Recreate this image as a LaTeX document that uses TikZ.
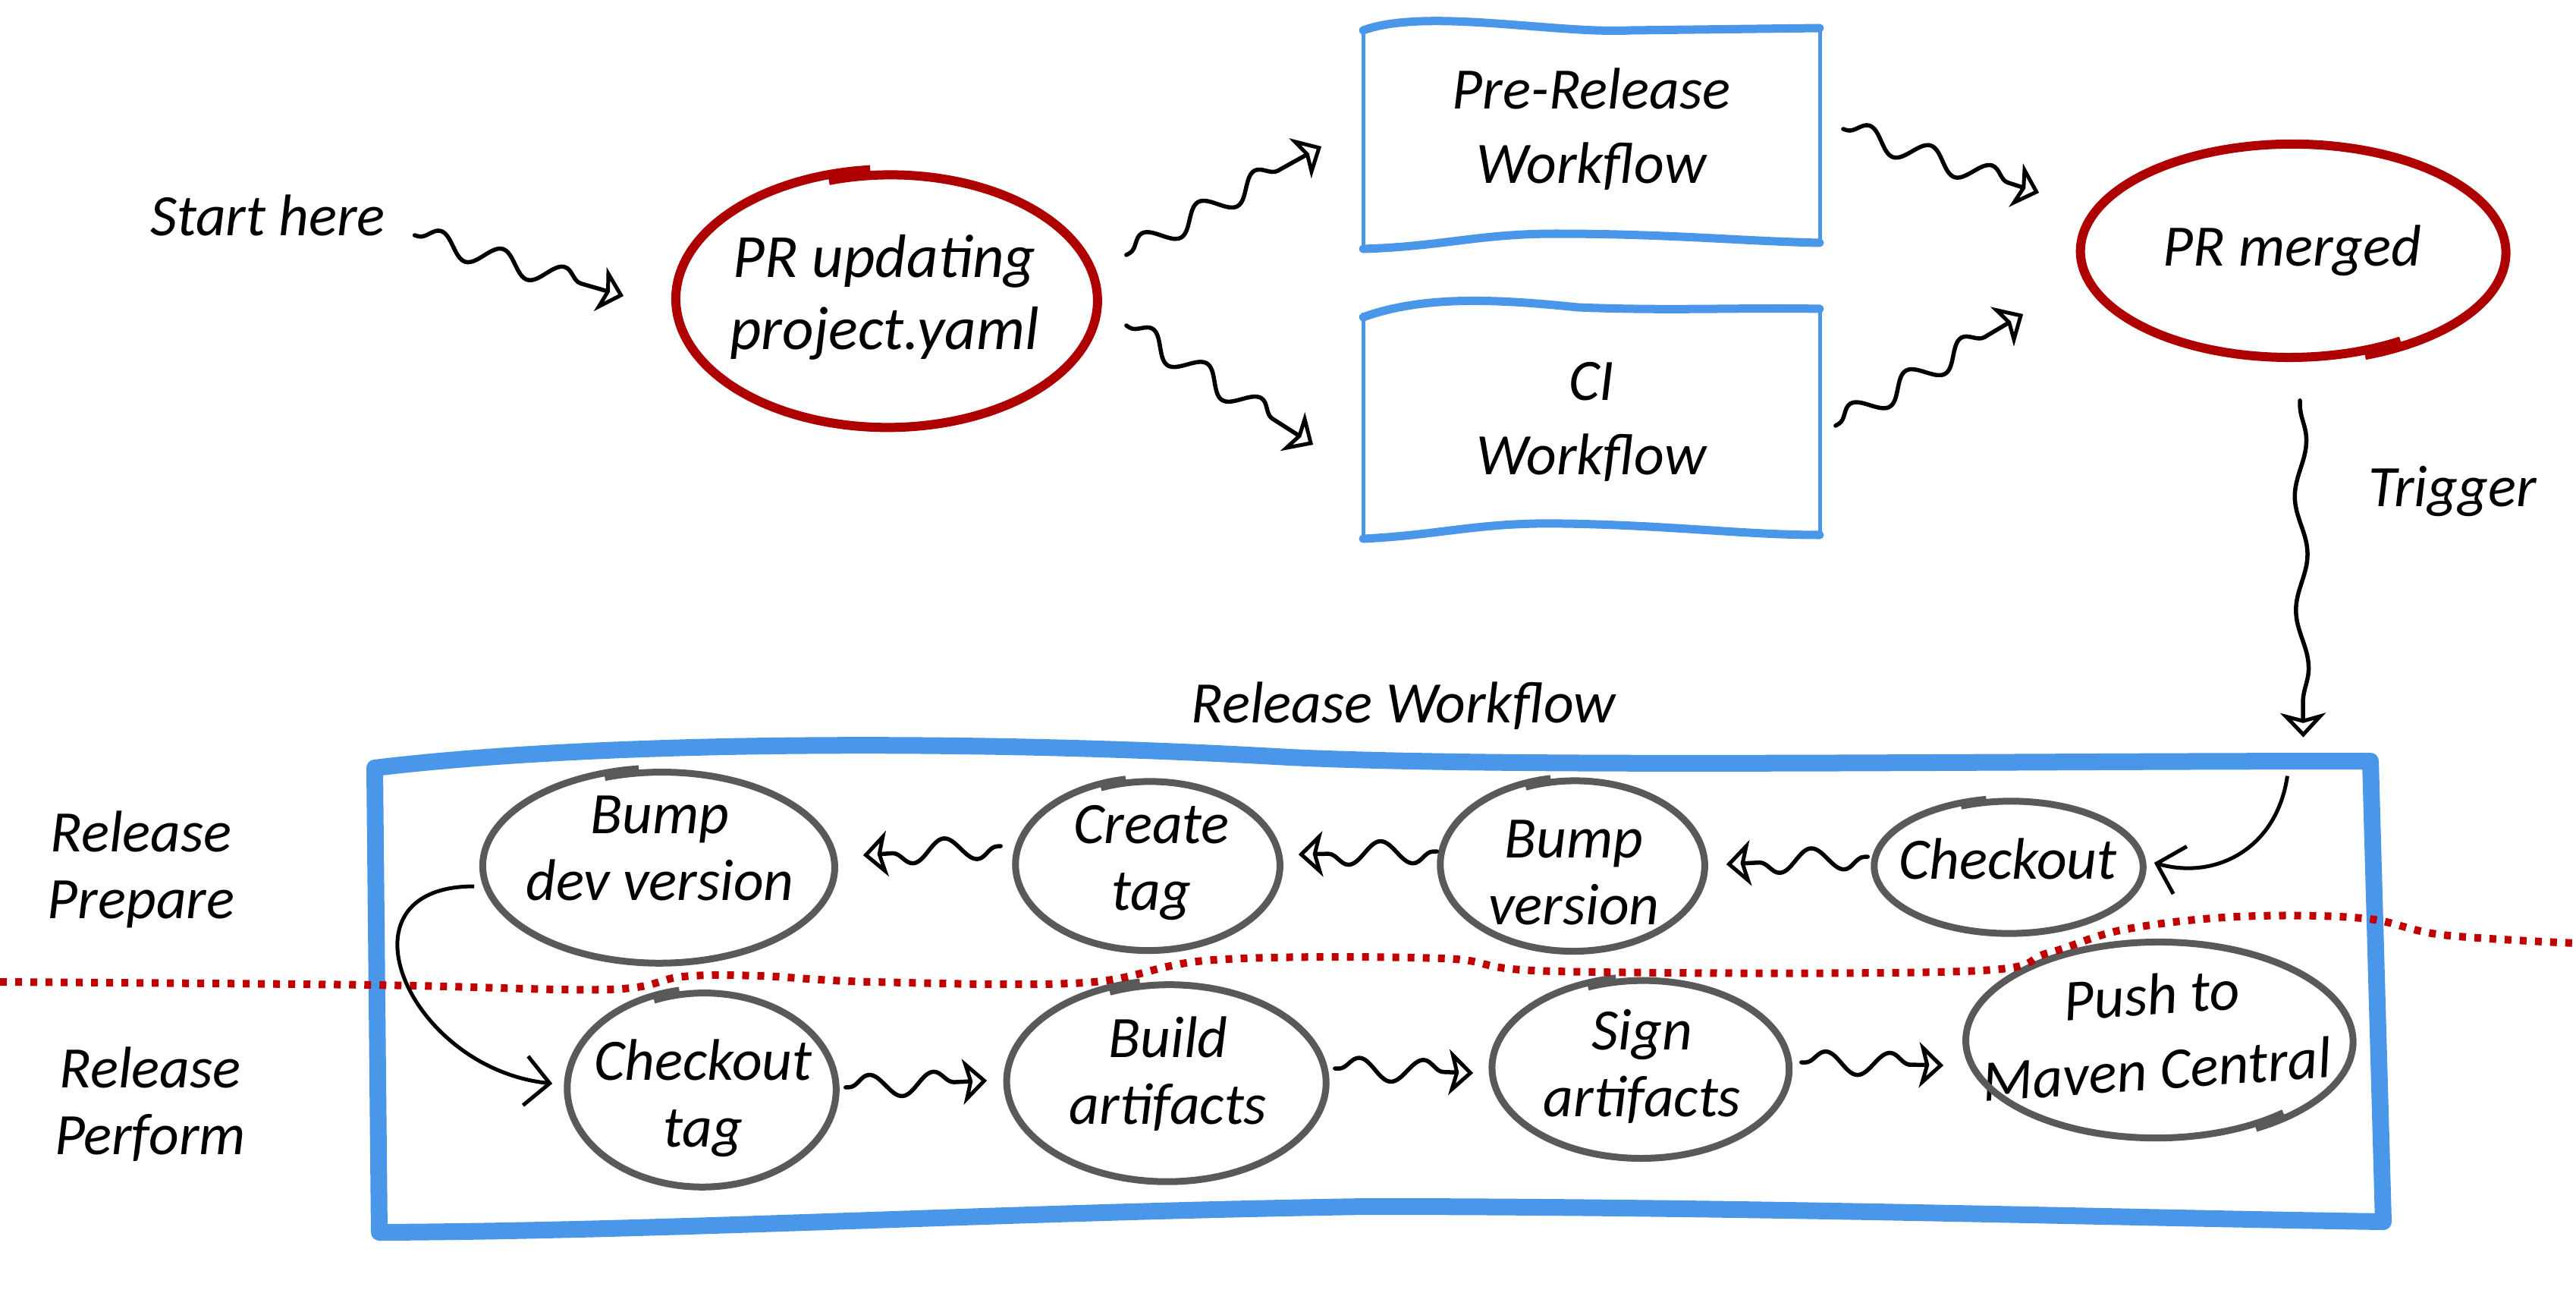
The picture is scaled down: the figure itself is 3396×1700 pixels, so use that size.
\documentclass[tikz,border=0pt]{standalone}
\usepackage{fontspec}
\setmainfont{Carlito}
\usetikzlibrary{shapes.geometric,arrows.meta,decorations.pathmorphing,calc}
\definecolor{sketchred}{HTML}{AE0000}
\definecolor{dotred}{HTML}{C00000}
\definecolor{sketchblue}{HTML}{4A96E8}
\definecolor{sketchgray}{HTML}{595959}
\newcommand{\sketchring}[5]{%
  \draw[#1, shift={(#2.center)}] plot[smooth, domain=#5:#5+372, samples=90, variable=\x]
   ({#3*(1-0.045*(\x-#5)/372)*cos(\x)}, {-#4*(1-0.045*(\x-#5)/372)*sin(\x)});}
\tikzset{
  txt/.style={font=\fontsize{22}{25}\selectfont\itshape, align=center, inner sep=0pt},
  boxtxt/.style={font=\fontsize{22}{28}\selectfont\itshape, align=center, inner sep=0pt},
  ringnode/.style={ellipse, draw=none, inner sep=0pt},
  boxnode/.style={rectangle, draw=none, inner sep=0pt},
  wavy/.style={draw=black, line width=0.055cm, line cap=round, decorate,
    decoration={snake, amplitude=0.15cm, segment length=0.85cm, pre length=0.05cm, post length=0.3cm},
    -{Stealth[open, length=0.32cm, width=0.6cm, inset=0.08cm, line width=0.05cm]}},
  curvearrow/.style={draw=black, line width=0.05cm, -{Straight Barb[length=0.32cm, width=0.65cm]}},
  grayring/.style={draw=sketchgray, line width=0.09cm},
  redring/.style={draw=sketchred, line width=0.12cm},
  bluethick/.style={draw=sketchblue, line width=0.11cm, line cap=round},
  bluethin/.style={draw=sketchblue, line width=0.05cm},
  bigblue/.style={draw=sketchblue, line width=0.22cm, line cap=round, line join=round},
  dotline/.style={draw=dotred, line width=0.1cm, dash pattern=on 0.09cm off 0.11cm},
}
\begin{document}
\begin{tikzpicture}[x=0.01cm, y=-0.01cm]
\useasboundingbox (0,0) rectangle (3396,1700);

% ---------- top row ----------
\node[txt] (start) at (353,284) {Start here};

\node[ringnode, minimum width=5.68cm, minimum height=3.44cm] (pr) at (1172,395) {};
\node[txt, font=\fontsize{23}{27}\selectfont\itshape] (prT) at (1166,392) {PR updating\\project.yaml};
\sketchring{redring}{pr}{284}{172}{95}

\node[boxnode, boxtxt, minimum width=6.02cm, minimum height=2.95cm] (pre) at (2098,170) {Pre-Release\\Workflow};
\node[boxnode, boxtxt, minimum width=6.02cm, minimum height=3.0cm] (ci) at (2098,556) {CI\\Workflow};

% box outlines
\draw[bluethin] (1797,36) -- (1797,328);
\draw[bluethin] (2399,38) -- (2399,320);
\draw[bluethick] (1797,40) .. controls (1880,10) and (2050,45) .. (2150,40) -- (2399,37);
\draw[bluethick] (1797,328) .. controls (1900,325) and (1950,308) .. (2050,308) .. controls (2200,308) and (2300,318) .. (2399,320);
\draw[bluethin] (1797,412) -- (1797,710);
\draw[bluethin] (2399,407) -- (2399,705);
\draw[bluethick] (1797,418) .. controls (1880,388) and (1980,395) .. (2080,405) .. controls (2200,410) and (2300,405) .. (2399,407);
\draw[bluethick] (1797,710) .. controls (1900,705) and (1950,688) .. (2060,690) .. controls (2200,692) and (2300,705) .. (2399,705);

\node[ringnode, minimum width=5.72cm, minimum height=2.9cm] (merged) at (3020,332) {};
\node[txt] (mergedT) at (3022,330) {PR merged};
\sketchring{redring}{merged}{286}{145}{290}

\node[txt] (trig) at (3233,648) {Trigger};

% ---------- release workflow ----------
\node[txt] (relwf) at (1850,930) {Release Workflow};
\node[boxnode, minimum width=26.46cm, minimum height=6.19cm] (rwbox) at (1817,1312) {};
\draw[bigblue] (494,1012) .. controls (800,975) and (1300,975) .. (1700,998)
  .. controls (2000,1012) and (2600,1003) .. (3125,1003) -- (3142,1610)
  .. controls (2800,1605) and (2300,1590) .. (1800,1590)
  .. controls (1300,1598) and (900,1622) .. (500,1624) -- cycle;

\node[txt] (prep) at (186,1146) {Release\\Prepare};
\node[txt] (perf) at (198,1455) {Release\\Perform};

% prepare row
\node[ringnode, minimum width=4.74cm, minimum height=2.6cm] (bdv) at (871,1142) {};
\node[txt] (bdvT) at (870,1118) {Bump\\dev version};
\sketchring{grayring}{bdv}{237}{130}{97}

\node[ringnode, minimum width=3.56cm, minimum height=2.3cm] (ct) at (1515,1140) {};
\node[txt] (ctT) at (1518,1137) {Create\\tag};
\sketchring{grayring}{ct}{178}{115}{100}

\node[ringnode, minimum width=3.56cm, minimum height=2.32cm] (bv) at (2075,1140) {};
\node[txt] (bvT) at (2075,1150) {Bump\\version};
\sketchring{grayring}{bv}{178}{116}{100}

\node[ringnode, minimum width=3.62cm, minimum height=1.8cm] (co) at (2650,1142) {};
\node[txt] (coT) at (2647,1132) {Checkout};
\sketchring{grayring}{co}{181}{90}{100}

% perform row
\node[ringnode, minimum width=3.62cm, minimum height=2.64cm] (cot) at (927,1435) {};
\node[txt] (cotT) at (927,1447) {Checkout\\tag};
\sketchring{grayring}{cot}{181}{132}{100}

\node[ringnode, minimum width=4.3cm, minimum height=2.68cm] (ba) at (1540,1426) {};
\node[txt] (baT) at (1540,1415) {Build\\artifacts};
\sketchring{grayring}{ba}{215}{134}{100}

\node[ringnode, minimum width=4.0cm, minimum height=2.42cm] (sa) at (2165,1408) {};
\node[txt] (saT) at (2165,1405) {Sign\\artifacts};
\sketchring{grayring}{sa}{200}{121}{100}

\node[ringnode, minimum width=5.2cm, minimum height=2.66cm] (pm) at (2844,1372) {};
\node[txt, font=\fontsize{22}{28}\selectfont\itshape, rotate=4] (pmT) at (2840,1360) {Push to\\Maven Central};
\sketchring{grayring}{pm}{260}{133}{300}

% dotted separator
\draw[dotline] plot[smooth, tension=0.6] coordinates {(0,1294) (490,1298) (800,1304) (900,1287) (1000,1286) (1150,1294) (1430,1295) (1600,1265) (1900,1263) (2050,1280) (2590,1280) (2700,1256) (2800,1225) (2950,1208) (3114,1210) (3220,1232) (3396,1243)};

% ---------- connectors ----------
\draw[wavy] ($(start.east)+(38,26)$) -- ($(pr.west)+(-65,-5)$);
\draw[wavy] ($(pr.east)+(28,-59)$) -- ($(pre.west)+(-54,23)$);
\draw[wavy] ($(pr.east)+(28,34)$) -- ($(ci.west)+(-65,30)$);
\draw[wavy] ($(pre.east)+(30,0)$) -- ($(merged.west)+(-45,-78)$);
\draw[wavy] ($(ci.east)+(20,5)$) -- ($(merged.west)+(-66,82)$);
\draw[wavy, decoration={snake, amplitude=0.08cm, segment length=1.5cm, post length=0.3cm}] ($(merged.south)+(12,50)$) -- ($(rwbox.north east)+(-105,-30)$);

\draw[curvearrow] ($(rwbox.north east)+(-126,21)$) .. controls +(-14,96) and +(81,23) .. ($(co.east)+(8,-5)$);
\draw[curvearrow] ($(bdv.west)+(-8,26)$) .. controls +(-190,0) and +(-190,-20) .. ($(cot.west)+(-17,-7)$);

\draw[wavy] ($(co.west)+(-6,-13)$) -- ($(bv.east)+(22,-1)$);
\draw[wavy] ($(bv.west)+(-2,-18)$) -- ($(ct.east)+(18,-14)$);
\draw[wavy] ($(ct.west)+(-17,-25)$) -- ($(bdv.east)+(29,-15)$);
\draw[wavy] ($(cot.east)+(6,-2)$) -- ($(ba.west)+(-23,-2)$);
\draw[wavy] ($(ba.east)+(4,-18)$) -- ($(sa.west)+(-22,6)$);
\draw[wavy] ($(sa.east)+(9,-8)$) -- ($(pm.west)+(-21,32)$);
\end{tikzpicture}
\end{document}
